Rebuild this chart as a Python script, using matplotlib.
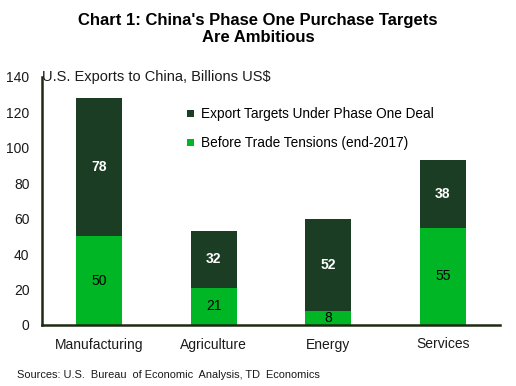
import matplotlib
matplotlib.use("Agg")
import matplotlib.pyplot as plt
import numpy as np

categories = ["Manufacturing", "Agriculture", "Energy", "Services"]
before = [50, 21, 8, 55]
targets = [78, 32, 52, 38]
yticks = [0, 20, 40, 60, 80, 100, 120, 140]

plt.rcParams['font.family'] = ['Liberation Sans', 'DejaVu Sans']

dark = "#1b3d24"
light = "#00b624"

fig = plt.figure(figsize=(5.16, 3.86), dpi=100)
ax = fig.add_axes([42/516, 1-325/386, 458/516, 248/386])

x = np.arange(len(categories))
w = 0.4
b1 = ax.bar(x, before, w, color=light, label="Before Trade Tensions (end-2017)")
b2 = ax.bar(x, targets, w, bottom=before, color=dark, label="Export Targets Under Phase One Deal")

for i in range(len(categories)):
    ax.text(x[i], before[i]/2, str(before[i]), ha="center", va="center", fontsize=10, color="black")
    ax.text(x[i], before[i] + targets[i]/2, str(targets[i]), ha="center", va="center",
            fontsize=10, color="white", fontweight="bold")

ax.set_xlim(-0.5, 3.5)
ax.set_ylim(0, 140)
ax.set_yticks(yticks)
ax.set_xticks(x)
ax.set_xticklabels(categories)
ax.tick_params(axis="both", length=0, labelsize=10, colors="#1a1a1a")
ax.tick_params(axis="y", pad=9)
ax.tick_params(axis="x", pad=9)
for s in ["top", "right"]:
    ax.spines[s].set_visible(False)
for s in ["left", "bottom"]:
    ax.spines[s].set_linewidth(1.8)
    ax.spines[s].set_color("#1f2a14")

ax.text(0.0, 1.0, "U.S. Exports to China, Billions US$", transform=ax.transAxes,
        ha="left", va="center", fontsize=10.5, color="#1a1a1a")

handles = [b2, b1]
labels = ["Export Targets Under Phase One Deal", "Before Trade Tensions (end-2017)"]
leg = ax.legend(handles, labels, loc="upper left", bbox_to_anchor=((182-42)/458, (325-102)/248),
                frameon=False, fontsize=9.8, handlelength=0.5, handleheight=0.5,
                handletextpad=0.5, labelspacing=1.1, borderaxespad=0)

fig.text(0.5, 1-29/386, "Chart 1: China's Phase One Purchase Targets\nAre Ambitious",
         ha="center", va="center", fontsize=12, fontweight="bold", linespacing=1.2)
fig.text(17/516, 1-375/386, "Sources: U.S.  Bureau  of Economic  Analysis, TD  Economics",
         ha="left", va="center", fontsize=7.9, color="#1a1a1a")

fig.savefig("out.png", dpi=100)
